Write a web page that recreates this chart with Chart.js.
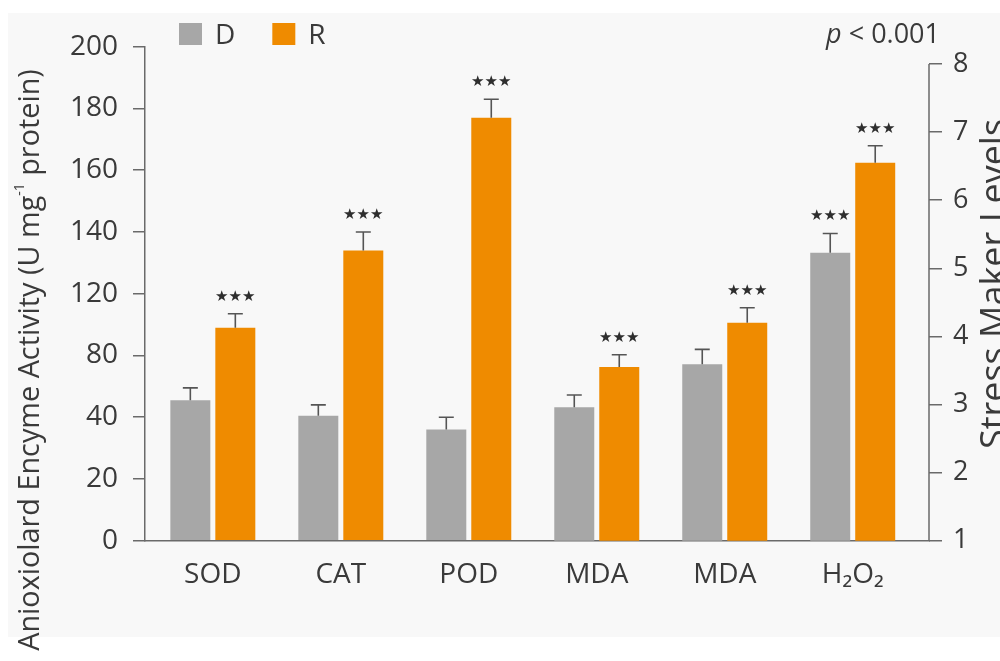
<!DOCTYPE html>
<html>
<head>
<meta charset="utf-8">
<script src="https://cdn.jsdelivr.net/npm/chart.js@4.4.1/dist/chart.umd.min.js"></script>
<style>
  html, body { margin: 0; padding: 0; background: #ffffff; }
  #wrap { width: 1000px; height: 661px; position: relative; }
</style>
</head>
<body>
<div id="wrap"><canvas id="c" width="1000" height="661"></canvas></div>
<script>
// ---------------- data ----------------
const categories = ['SOD', 'CAT', 'POD', 'MDA', 'MDA', 'H₂O₂'];
const seriesNames = ['D', 'R'];
const enzymeTicks = [0, 20, 40, 80, 120, 140, 160, 180, 200];
const stressTicks = [1, 2, 3, 4, 5, 6, 7, 8];

// antioxidant enzymes (left axis): SOD, CAT, POD
const enzymeD    = [51, 41, 36];
const enzymeDErr = [8, 7, 4];
const enzymeR    = [98, 134, 177];
const enzymeRErr = [9, 6, 6];

// stress markers (right axis): MDA, MDA, H2O2
const stressD    = [2.96, 3.59, 5.23];
const stressDErr = [0.18, 0.22, 0.28];
const stressR    = [3.55, 4.20, 6.55];
const stressRErr = [0.18, 0.22, 0.25];

// significance marks per category
const sigD = ['', '', '', '', '', '***'];
const sigR = ['***', '***', '***', '***', '***', '***'];

const leftTitle = 'Anioxiolard Encyme Activity (U mg';
const leftTitleSup = '-1';
const leftTitleEnd = ' protein)';
const rightTitle = 'Stress Maker Levels';
const pLabel = 'p';
const pText = ' < 0.001';

// ---------------- styles ----------------
const GRAY = '#a7a7a7';
const ORANGE = '#ef8b00';
const TEXT = '#3a3a3a';
const AXIS = '#6a6a6a';
const FONT = 'Open Sans';

// ---------------- custom scale with the labelled (uneven) tick spacing ----------------
class LabelledStepScale extends Chart.LinearScale {
  determineDataLimits() {
    this.min = enzymeTicks[0];
    this.max = enzymeTicks[enzymeTicks.length - 1];
  }
  buildTicks() {
    return enzymeTicks.map(v => ({ value: v }));
  }
  _pos(v) {
    const t = enzymeTicks, n = t.length - 1;
    if (v <= t[0]) return (v - t[0]) / (t[1] - t[0]);
    for (let i = 1; i <= n; i++) {
      if (v <= t[i]) return i - 1 + (v - t[i - 1]) / (t[i] - t[i - 1]);
    }
    return n + (v - t[n]) / (t[n] - t[n - 1]);
  }
  getPixelForValue(v) {
    if (v === null || v === undefined || isNaN(v)) return NaN;
    return this.getPixelForDecimal(this._pos(v) / (enzymeTicks.length - 1));
  }
  getValueForPixel(px) {
    const t = enzymeTicks;
    const p = this.getDecimalForPixel(px) * (t.length - 1);
    const i = Math.max(0, Math.min(t.length - 2, Math.floor(p)));
    return t[i] + (p - i) * (t[i + 1] - t[i]);
  }
}
LabelledStepScale.id = 'labelledStep';
LabelledStepScale.defaults = Chart.LinearScale.defaults;
Chart.register(LabelledStepScale);

// ---------------- build datasets ----------------
function spread(vals, offset) {
  return categories.map((c, i) => {
    const k = i - offset;
    return (k >= 0 && k < vals.length) ? vals[k] : null;
  });
}
function points(vals, offset) {
  return spread(vals, offset).map((y, i) => ({ x: i, y: y }));
}
const nEnz = enzymeD.length;

const datasets = [
  { label: seriesNames[0], data: points(enzymeD, 0), errors: spread(enzymeDErr, 0), sig: sigD, yAxisID: 'y', backgroundColor: GRAY },
  { label: seriesNames[1], data: points(enzymeR, 0), errors: spread(enzymeRErr, 0), sig: sigR, yAxisID: 'y', backgroundColor: ORANGE },
  { label: seriesNames[0], data: points(stressD, nEnz), errors: spread(stressDErr, nEnz), sig: sigD, yAxisID: 'y1', backgroundColor: GRAY },
  { label: seriesNames[1], data: points(stressR, nEnz), errors: spread(stressRErr, nEnz), sig: sigR, yAxisID: 'y1', backgroundColor: ORANGE }
];

// ---------------- plugins ----------------
const backgroundPlugin = {
  id: 'panelBg',
  beforeDraw(chart) {
    const ctx = chart.ctx;
    ctx.save();
    ctx.fillStyle = '#ffffff';
    ctx.fillRect(0, 0, chart.width, chart.height);
    ctx.fillStyle = '#f8f8f8';
    ctx.fillRect(8, 13, chart.width - 8, 624);
    ctx.restore();
  }
};

const rightAxisLinePlugin = {
  id: 'rightAxisLine',
  afterDraw(chart) {
    const s = chart.scales.y1, ctx = chart.ctx;
    ctx.save();
    ctx.strokeStyle = AXIS;
    ctx.lineWidth = 1.5;
    ctx.beginPath();
    ctx.moveTo(s.left, s.getPixelForValue(stressTicks[0]));
    ctx.lineTo(s.left, s.getPixelForValue(stressTicks[stressTicks.length - 1]));
    ctx.stroke();
    ctx.restore();
  }
};

const errorBarPlugin = {
  id: 'errorBars',
  afterDatasetsDraw(chart) {
    const ctx = chart.ctx;
    chart.data.datasets.forEach((ds, di) => {
      const meta = chart.getDatasetMeta(di);
      const ys = chart.scales[ds.yAxisID];
      meta.data.forEach((bar, i) => {
        const v = ds.data[i].y;
        if (v === null || v === undefined) return;
        const x = bar.x;
        const yTop = ys.getPixelForValue(v);
        const yErr = ys.getPixelForValue(v + ds.errors[i]);
        ctx.save();
        ctx.strokeStyle = '#555555';
        ctx.lineWidth = 1.6;
        ctx.beginPath();
        ctx.moveTo(x, yTop);
        ctx.lineTo(x, yErr);
        ctx.moveTo(x - 7.5, yErr);
        ctx.lineTo(x + 7.5, yErr);
        ctx.stroke();
        const s = ds.sig[i];
        if (s) {
          ctx.fillStyle = '#2e2e2e';
          ctx.font = '15px "DejaVu Sans"';
          ctx.textAlign = 'center';
          ctx.textBaseline = 'middle';
          const n = s.length;
          for (let k = 0; k < n; k++) {
            ctx.fillText('★', x + (k - (n - 1) / 2) * 13.5, yErr - 17);
          }
        }
        ctx.restore();
      });
    });
  }
};

function drawRuns(ctx, runs, cx, cy, rotation, align) {
  ctx.save();
  ctx.translate(cx, cy);
  ctx.rotate(rotation);
  let total = 0;
  runs.forEach(r => { ctx.font = r.font; r.w = ctx.measureText(r.text).width; total += r.w; });
  let x = align === 'right' ? -total : -total / 2;
  ctx.textAlign = 'left';
  ctx.fillStyle = TEXT;
  runs.forEach(r => {
    ctx.font = r.font;
    ctx.textBaseline = r.baseline || 'middle';
    ctx.fillText(r.text, x, r.dy || 0);
    x += r.w;
  });
  ctx.restore();
}

const annotationsPlugin = {
  id: 'annotations',
  afterDraw(chart) {
    const ctx = chart.ctx;
    // legend (only the two series)
    ctx.save();
    let x = 179;
    for (let k = 0; k < 2; k++) {
      const ds = chart.data.datasets[k];
      ctx.fillStyle = ds.backgroundColor;
      ctx.fillRect(x, 23, 23, 22);
      ctx.fillStyle = TEXT;
      ctx.font = '28px "' + FONT + '"';
      ctx.textBaseline = 'alphabetic';
      ctx.textAlign = 'left';
      ctx.fillText(ds.label, x + 36, 44);
      x += 36 + ctx.measureText(ds.label).width + 37;
    }
    ctx.restore();
    // axis titles
    drawRuns(ctx, [
      { text: leftTitle, font: '28.8px "' + FONT + '"' },
      { text: leftTitleSup, font: '14px "' + FONT + '"', dy: -11 },
      { text: leftTitleEnd, font: '28.8px "' + FONT + '"' }
    ], 31, 360, -Math.PI / 2, 'center');
    drawRuns(ctx, [{ text: rightTitle, font: '36px "' + FONT + '"', baseline: 'alphabetic' }],
      1006, 284, -Math.PI / 2, 'center');
    // p-value
    drawRuns(ctx, [
      { text: pLabel, font: 'italic 27px "' + FONT + '"', baseline: 'alphabetic' },
      { text: pText, font: '27px "' + FONT + '"', baseline: 'alphabetic' }
    ], 940, 43, 0, 'right');
  }
};

// ---------------- chart ----------------
Chart.defaults.font.family = FONT;
Chart.defaults.color = TEXT;

new Chart(document.getElementById('c'), {
  type: 'bar',
  data: { datasets: datasets },
  options: {
    responsive: false,
    animation: false,
    devicePixelRatio: 1,
    layout: { padding: { top: 46.7, left: 0, right: 0, bottom: 0 } },
    datasets: { bar: { skipNull: true, categoryPercentage: 0.703, barPercentage: 0.889 } },
    plugins: { legend: { display: false }, tooltip: { enabled: false } },
    scales: {
      x: {
        type: 'linear',
        offset: false,
        min: -0.53,
        max: 5.596,
        grid: { display: false, offset: false },
        border: { display: true, color: AXIS, width: 1.5 },
        afterBuildTicks: s => { s.ticks = categories.map((c, i) => ({ value: i })); },
        afterFit: s => { s.height = 120.3; },
        ticks: {
          autoSkip: false,
          maxRotation: 0,
          padding: 10,
          color: TEXT,
          font: { size: 28, family: FONT },
          callback: (v, i) => categories[i]
        }
      },
      y: {
        type: 'labelledStep',
        position: 'left',
        afterFit: s => { s.width = 145; },
        grid: { drawOnChartArea: false, drawTicks: true, tickLength: 12, color: AXIS, lineWidth: 1.5 },
        border: { display: true, color: AXIS, width: 1.5 },
        ticks: { padding: 15, color: TEXT, font: { size: 28, family: FONT }, callback: v => String(v) }
      },
      y1: {
        type: 'linear',
        position: 'right',
        min: 1,
        max: 8.254,
        afterBuildTicks: s => { s.ticks = stressTicks.map(v => ({ value: v })); },
        afterFit: s => { s.width = 71; },
        grid: { drawOnChartArea: false, drawTicks: true, tickLength: 13, color: AXIS, lineWidth: 1.5 },
        border: { display: false },
        ticks: { padding: 11, color: TEXT, font: { size: 27, family: FONT }, callback: v => String(v) }
      }
    }
  },
  plugins: [backgroundPlugin, errorBarPlugin, rightAxisLinePlugin, annotationsPlugin]
});
</script>
</body>
</html>
